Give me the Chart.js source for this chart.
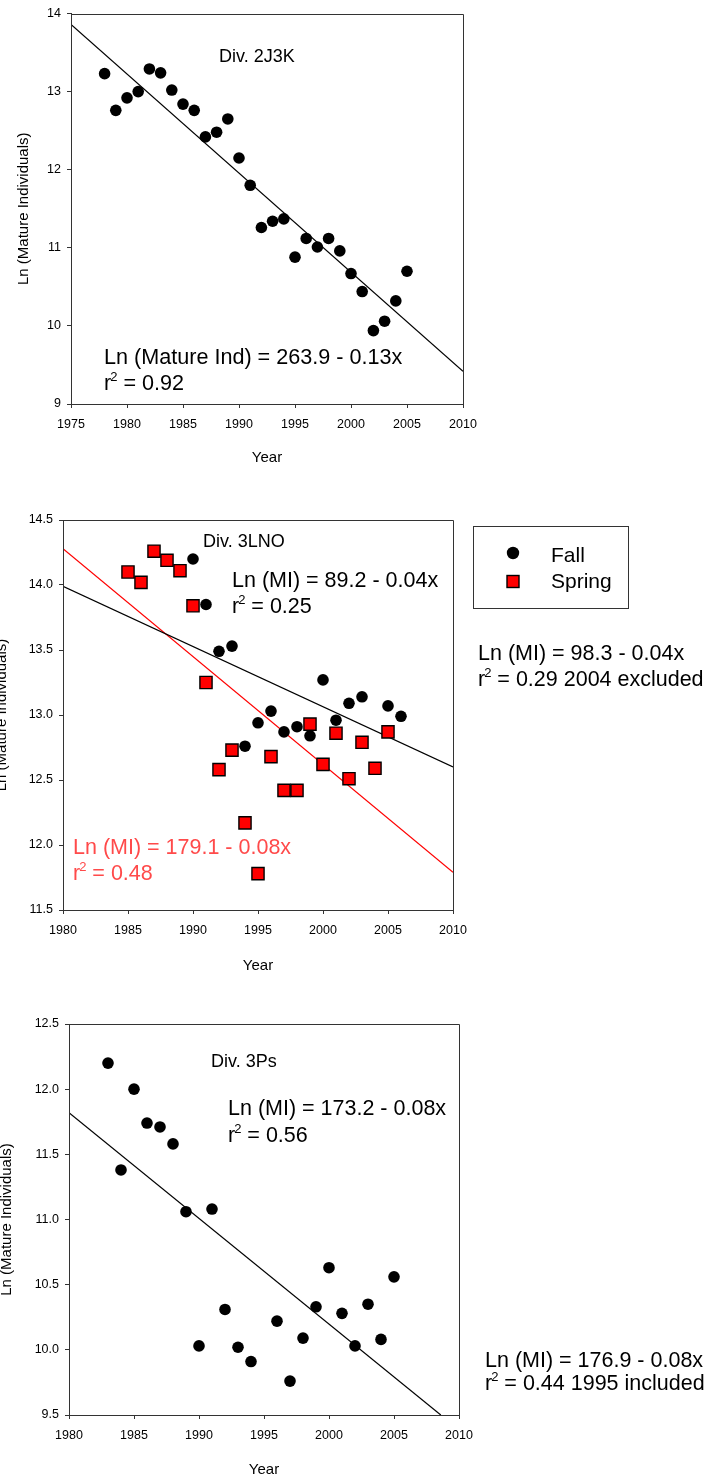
<!DOCTYPE html>
<html>
<head>
<meta charset="utf-8">
<script src="https://cdn.jsdelivr.net/npm/chart.js@4/dist/chart.umd.min.js"></script>
<style>
  html, body { margin: 0; padding: 0; background: #fff; width: 708px; height: 1477px; overflow: hidden; }
  canvas { position: absolute; left: 0; }
</style>
</head>
<body>
<canvas id="p1" width="708" height="475" style="top:0px;width:708px;height:475px"></canvas>
<canvas id="p2" width="708" height="490" style="top:490px;width:708px;height:490px"></canvas>
<canvas id="p3" width="708" height="477" style="top:1000px;width:708px;height:477px"></canvas>
<script>
// ---- data ----
const years2J3K = [1978, 1979, 1980, 1981, 1982, 1983, 1984, 1985, 1986, 1987, 1988, 1989, 1990, 1991,
                   1992, 1993, 1994, 1995, 1996, 1997, 1998, 1999, 2000, 2001, 2002, 2003, 2004, 2005];
const ln2J3K = [13.23, 12.76, 12.92, 13.00, 13.29, 13.24, 13.02, 12.84, 12.76, 12.42, 12.48, 12.65, 12.15, 11.80,
                11.26, 11.34, 11.37, 10.88, 11.12, 11.01, 11.12, 10.96, 10.67, 10.44, 9.94, 10.06, 10.32, 10.70];
const fitX2J3K = [1975, 2010];
const fitY2J3K = [13.86, 9.42];

const yearsFall3LNO = [1990, 1991, 1992, 1993, 1994, 1995, 1996, 1997, 1998, 1999, 2000, 2001, 2002, 2003, 2005, 2006];
const lnFall3LNO = [14.20, 13.85, 13.49, 13.53, 12.76, 12.94, 13.03, 12.87, 12.91, 12.84, 13.27, 12.96, 13.09, 13.14, 13.07, 12.99];
const yearsSpring3LNO = [1985, 1986, 1987, 1988, 1989, 1990, 1991, 1992, 1993, 1994, 1995,
                         1996, 1997, 1998, 1999, 2000, 2001, 2002, 2003, 2004, 2005];
const lnSpring3LNO = [14.10, 14.02, 14.26, 14.19, 14.11, 13.84, 13.25, 12.58, 12.73, 12.17, 11.78,
                      12.68, 12.42, 12.42, 12.93, 12.62, 12.86, 12.51, 12.79, 12.59, 12.87];
const fitXFall3LNO = [1980, 2010];
const fitYFall3LNO = [13.99, 12.60];
const fitXSpring3LNO = [1980, 2010];
const fitYSpring3LNO = [14.28, 11.79];

const years3Ps = [1983, 1984, 1985, 1986, 1987, 1988, 1989, 1990, 1991, 1992, 1993, 1994,
                  1996, 1997, 1998, 1999, 2000, 2001, 2002, 2003, 2004, 2005];
const ln3Ps = [12.20, 11.38, 12.00, 11.74, 11.71, 11.58, 11.06, 10.03, 11.08, 10.31, 10.02, 9.91,
               10.22, 9.76, 10.09, 10.33, 10.63, 10.28, 10.03, 10.35, 10.08, 10.56];
const fitX3Ps = [1980, 2008.6];
const fitY3Ps = [11.82, 9.5];

const xTicks1975 = [1975, 1980, 1985, 1990, 1995, 2000, 2005, 2010];
const xTicks1980 = [1980, 1985, 1990, 1995, 2000, 2005, 2010];
const yTicks2J3K = [9, 10, 11, 12, 13, 14];
const yLabels2J3K = ["9", "10", "11", "12", "13", "14"];
const yTicks3LNO = [11.5, 12.0, 12.5, 13.0, 13.5, 14.0, 14.5];
const yLabels3LNO = ["11.5", "12.0", "12.5", "13.0", "13.5", "14.0", "14.5"];
const yTicks3Ps = [9.5, 10.0, 10.5, 11.0, 11.5, 12.0, 12.5];
const yLabels3Ps = ["9.5", "10.0", "10.5", "11.0", "11.5", "12.0", "12.5"];

// ---- styling ----
const FONT = '"Liberation Sans", Arial, Helvetica, sans-serif';
const FRAME = '#333';
const RED_TEXT = '#ff4a4a';

function pts(xs, ys) { return xs.map((x, i) => ({ x: x, y: ys[i] })); }

function circles(label, xs, ys) {
  return { label: label, data: pts(xs, ys), pointStyle: 'circle', pointRadius: 5.8,
           backgroundColor: '#000', borderColor: '#000', borderWidth: 0, showLine: false, order: 1 };
}
function squares(label, xs, ys) {
  return { label: label, data: pts(xs, ys), pointStyle: 'rect', pointRadius: 8.6,
           backgroundColor: '#ff0000', borderColor: '#000', borderWidth: 1.4, showLine: false, order: 0 };
}
function fitLine(xs, ys, color) {
  return { data: pts(xs, ys), showLine: true, pointRadius: 0, borderColor: color, borderWidth: 1.2,
           backgroundColor: color, order: 2 };
}

// text pieces: x, baseline y in page pixels
function drawNote(ctx, n, top) {
  ctx.save();
  ctx.fillStyle = n.color || '#000';
  ctx.textAlign = 'left';
  ctx.textBaseline = 'alphabetic';
  ctx.font = n.size + 'px ' + FONT;
  let x = n.x, y = n.y - top;
  if (n.r2 !== undefined) {
    ctx.fillText('r', x, y);
    x += ctx.measureText('r').width - 1;
    ctx.font = Math.round(n.size * 0.6) + 'px ' + FONT;
    ctx.fillText('2', x, y - n.size * 0.42);
    x += ctx.measureText('2').width;
    ctx.font = n.size + 'px ' + FONT;
    ctx.fillText(' = ' + n.r2, x, y);
  } else {
    ctx.fillText(n.text, x, y);
  }
  ctx.restore();
}

const panelDecor = {
  id: 'panelDecor',
  afterDraw(chart, args, opts) {
    const ctx = chart.ctx, a = chart.chartArea;
    ctx.save();
    ctx.strokeStyle = FRAME;
    ctx.lineWidth = 1;
    const l = Math.round(a.left) + 0.5, t0 = Math.round(a.top) + 0.5;
    const r = Math.round(a.right) + 0.5, b = Math.round(a.bottom) + 0.5;
    ctx.beginPath();
    ctx.moveTo(l, b); ctx.lineTo(l, t0); ctx.lineTo(r, t0); ctx.lineTo(r, b);
    ctx.stroke();
    ctx.restore();
    (opts.notes || []).forEach(n => drawNote(ctx, n, opts.top));
    if (opts.legend) {
      const L = opts.legend, t = opts.top;
      ctx.save();
      ctx.strokeStyle = FRAME;
      ctx.lineWidth = 1;
      ctx.strokeRect(L.box[0] + 0.5, L.box[1] - t + 0.5, L.box[2], L.box[3]);
      L.items.forEach(it => {
        const ds = chart.data.datasets[it.ds];
        ctx.fillStyle = ds.backgroundColor;
        ctx.strokeStyle = ds.borderColor;
        ctx.lineWidth = ds.borderWidth;
        if (ds.pointStyle === 'circle') {
          ctx.beginPath();
          ctx.arc(L.mx, it.y - t, 6.2, 0, Math.PI * 2);
          ctx.fill();
        } else {
          ctx.fillRect(L.mx - 6, it.y - t - 6, 12, 12);
          ctx.strokeRect(L.mx - 6, it.y - t - 6, 12, 12);
        }
        ctx.fillStyle = '#000';
        ctx.font = '21px ' + FONT;
        ctx.textBaseline = 'alphabetic';
        ctx.fillText(ds.label, L.tx, it.base - t);
      });
      ctx.restore();
    }
  }
};

function panel(id, p) {
  const canvas = document.getElementById(id);
  const H = canvas.height;
  const axisCommon = {
    type: 'linear',
    border: { display: true, color: FRAME, width: 1 },
    grid: { drawOnChartArea: false, drawTicks: true, tickLength: 4, color: FRAME }
  };
  return new Chart(canvas, {
    type: 'scatter',
    data: { datasets: p.datasets },
    options: {
      responsive: false,
      animation: false,
      events: [],
      layout: { padding: { left: 0, top: p.area.top - p.top, right: 708 - p.area.right, bottom: 0 } },
      plugins: {
        legend: { display: false },
        tooltip: { enabled: false },
        panelDecor: { notes: p.notes, legend: p.legend, top: p.top }
      },
      scales: {
        x: Object.assign({}, axisCommon, {
          min: p.xTicks[0], max: p.xTicks[p.xTicks.length - 1],
          afterBuildTicks: s => { s.ticks = p.xTicks.map(v => ({ value: v })); },
          afterFit: s => { s.height = p.top + H - p.area.bottom; },
          ticks: { autoSkip: false, maxRotation: 0, padding: 9, color: '#000',
                   font: { family: FONT, size: 12.5 }, callback: v => String(v) },
          title: { display: true, text: 'Year', color: '#000', font: { family: FONT, size: 15 },
                   padding: { top: 0, bottom: p.xTitlePad } }
        }),
        y: Object.assign({}, axisCommon, {
          min: p.yTicks[0], max: p.yTicks[p.yTicks.length - 1],
          afterBuildTicks: s => { s.ticks = p.yTicks.map(v => ({ value: v })); },
          afterFit: s => { s.width = p.area.left; },
          ticks: { autoSkip: false, padding: 6, color: '#000',
                   font: { family: FONT, size: 12.5 }, callback: (v, i) => p.yLabels[i] },
          title: { display: true, text: 'Ln (Mature Individuals)', color: '#000',
                   font: { family: FONT, size: 15 }, padding: { top: p.yTitlePad, bottom: 0 } }
        })
      }
    },
    plugins: [panelDecor]
  });
}

panel('p1', {
  top: 0,
  area: { left: 71, top: 13, right: 463, bottom: 404 },
  xTicks: xTicks1975, yTicks: yTicks2J3K, yLabels: yLabels2J3K,
  xTitlePad: 8.3, yTitlePad: 15,
  datasets: [
    fitLine(fitX2J3K, fitY2J3K, '#000'),
    circles('Div. 2J3K', years2J3K, ln2J3K)
  ],
  notes: [
    { text: 'Div. 2J3K', x: 219, y: 62, size: 18 },
    { text: 'Ln (Mature Ind) = 263.9 - 0.13x', x: 104, y: 364, size: 21.6 },
    { r2: '0.92', x: 104, y: 390, size: 21.6 }
  ]
});

panel('p2', {
  top: 490,
  area: { left: 63, top: 520, right: 453, bottom: 910 },
  xTicks: xTicks1980, yTicks: yTicks3LNO, yLabels: yLabels3LNO,
  xTitlePad: 5.3, yTitlePad: -6.8,
  datasets: [
    circles('Fall', yearsFall3LNO, lnFall3LNO),
    squares('Spring', yearsSpring3LNO, lnSpring3LNO),
    fitLine(fitXFall3LNO, fitYFall3LNO, '#000'),
    fitLine(fitXSpring3LNO, fitYSpring3LNO, '#ff0000')
  ],
  notes: [
    { text: 'Div. 3LNO', x: 203, y: 547, size: 18 },
    { text: 'Ln (MI) = 89.2 - 0.04x', x: 232, y: 587, size: 21.5 },
    { r2: '0.25', x: 232, y: 613, size: 21.5 },
    { text: 'Ln (MI) = 179.1 - 0.08x', x: 73, y: 854, size: 21.5, color: RED_TEXT },
    { r2: '0.48', x: 73, y: 880, size: 21.5, color: RED_TEXT },
    { text: 'Ln (MI) = 98.3 - 0.04x', x: 478, y: 660, size: 21.5 },
    { r2: '0.29 2004 excluded', x: 478, y: 686, size: 21.5 }
  ],
  legend: {
    box: [473, 526, 155, 82], mx: 513, tx: 551,
    items: [ { ds: 0, y: 553, base: 562 }, { ds: 1, y: 581.5, base: 588 } ]
  }
});

panel('p3', {
  top: 1000,
  area: { left: 69, top: 1024, right: 459, bottom: 1415 },
  xTicks: xTicks1980, yTicks: yTicks3Ps, yLabels: yLabels3Ps,
  xTitlePad: -2.2, yTitlePad: -1.8,
  datasets: [
    fitLine(fitX3Ps, fitY3Ps, '#000'),
    circles('Div. 3Ps', years3Ps, ln3Ps)
  ],
  notes: [
    { text: 'Div. 3Ps', x: 211, y: 1067, size: 18 },
    { text: 'Ln (MI) = 173.2 - 0.08x', x: 228, y: 1115, size: 21.5 },
    { r2: '0.56', x: 228, y: 1142, size: 21.5 },
    { text: 'Ln (MI) = 176.9 - 0.08x', x: 485, y: 1367, size: 21.5 },
    { r2: '0.44 1995 included', x: 485, y: 1390, size: 21.5 }
  ]
});
</script>
</body>
</html>
